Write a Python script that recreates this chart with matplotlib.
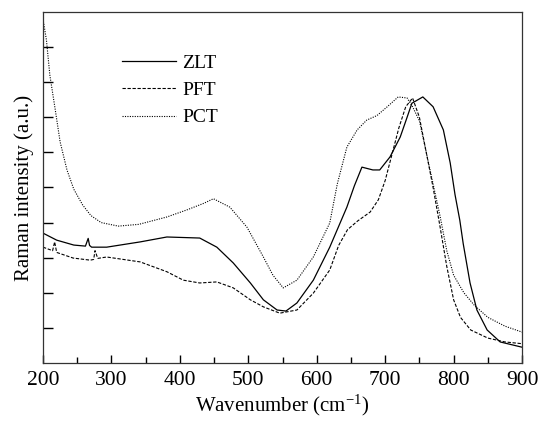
import numpy as np
import matplotlib
matplotlib.use("Agg")
import matplotlib.pyplot as plt
from matplotlib.ticker import MultipleLocator

# Dati (unita' arbitrarie sull'asse y)
zlt_x = [200, 220, 245, 262, 266, 268, 271, 293, 342, 381, 429, 454, 478, 503, 522, 542, 555, 571, 595,
         619, 644, 655, 666, 682, 692, 707, 722, 732, 739, 755, 770, 785, 795, 802, 809, 814, 824, 834,
         849, 868, 900]
zlt_y = [3.7, 3.5, 3.36, 3.33, 3.55, 3.35, 3.3, 3.30, 3.45, 3.59, 3.56, 3.30, 2.85, 2.28, 1.80, 1.51, 1.48,
         1.71, 2.36, 3.30, 4.44, 5.05, 5.58, 5.5, 5.5, 5.87, 6.44, 7.0, 7.4, 7.58, 7.3, 6.64, 5.7, 4.8,
         4.07, 3.4, 2.28, 1.51, 0.94, 0.6, 0.45]

pft_x = [200, 214, 217, 220, 244, 269, 274, 276, 280, 293, 342, 381, 405, 429, 454, 478, 503, 522, 546,
         571, 595, 619, 632, 645, 660, 678, 690, 700, 710, 720, 730, 740, 750, 760, 770, 780, 790, 800,
         810, 825, 850, 875, 900]
pft_y = [3.30, 3.2, 3.45, 3.15, 2.99, 2.93, 2.95, 3.2, 2.98, 3.02, 2.88, 2.6, 2.36, 2.28, 2.31, 2.14, 1.8,
         1.6, 1.42, 1.51, 1.99, 2.65, 3.35, 3.8, 4.05, 4.3, 4.65, 5.2, 5.95, 6.7, 7.3, 7.55, 7.0, 6.0,
         5.0, 3.9, 2.75, 1.8, 1.3, 0.94, 0.71, 0.6, 0.55]

pct_x = [200, 205, 210, 218, 225, 235, 245, 258, 270, 285, 310, 340, 381, 410, 435, 449, 473, 498, 522,
         536, 551, 571, 595, 619, 630, 644, 659, 673, 688, 703, 719, 732, 740, 750, 760, 770, 780, 790,
         800, 815, 830, 850, 875, 900]
pct_y = [9.8, 9.2, 8.2, 7.2, 6.3, 5.5, 4.95, 4.5, 4.2, 4.0, 3.9, 3.95, 4.16, 4.36, 4.55, 4.68, 4.44, 3.87,
         3.02, 2.5, 2.14, 2.36, 3.02, 3.99, 5.1, 6.15, 6.64, 6.92, 7.05, 7.3, 7.58, 7.55, 7.3, 6.9, 6.0,
         5.1, 4.2, 3.2, 2.5, 2.0, 1.65, 1.3, 1.05, 0.88]

plt.rcParams['font.family'] = ['Liberation Serif', 'DejaVu Serif']
plt.rcParams['mathtext.default'] = 'regular'

fig = plt.figure(figsize=(5.41, 4.22), dpi=100)
ax = fig.add_axes([0.0795, 0.1398, 0.8855, 0.8318])

ax.plot(zlt_x, zlt_y, color='black', lw=0.9, ls='-', label='ZLT')
ax.plot(pft_x, pft_y, color='black', lw=0.8, ls=(0, (3, 1.5)), label='PFT')
ax.plot(pct_x, pct_y, color='black', lw=0.8, ls=(0, (1, 1.2)), label='PCT')

ax.set_xlim(200, 900)
ax.set_ylim(0, 10)
ax.xaxis.set_major_locator(MultipleLocator(100))
ax.xaxis.set_minor_locator(MultipleLocator(50))
ax.set_yticks(np.arange(1, 10))
ax.set_yticklabels([])
ax.tick_params(axis='x', which='major', direction='in', length=6, width=1, labelsize=15.5, pad=6)
ax.tick_params(axis='x', which='minor', direction='in', length=4, width=1)
ax.tick_params(axis='y', direction='in', length=7, width=1)
for s in ax.spines.values():
    s.set_linewidth(0.9)
    s.set_color('#333333')

ax.set_xlabel('Wavenumber (cm$^{-1}$)', fontsize=15, labelpad=2)
ax.set_ylabel('Raman intensity (a.u.)', fontsize=15, labelpad=3)

ax.legend(loc='upper left', bbox_to_anchor=(0.165, 0.88), frameon=False, fontsize=14,
          handlelength=2.8, handletextpad=0.3, labelspacing=0.5, borderpad=0, borderaxespad=0)

plt.savefig('out.png', dpi=100)
